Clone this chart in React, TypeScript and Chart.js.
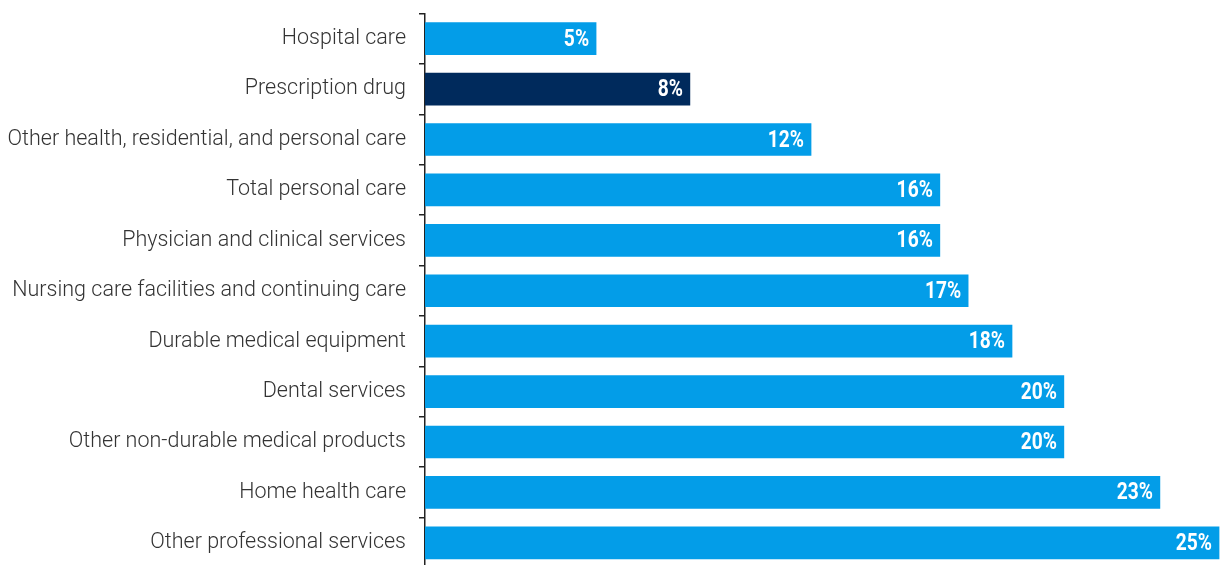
import React, { useEffect, useRef } from "react";
import { Chart, registerables } from "chart.js";

Chart.register(...registerables);

const categories = [
  "Hospital care",
  "Prescription drug",
  "Other health, residential, and personal care",
  "Total personal care",
  "Physician and clinical services",
  "Nursing care facilities and continuing care",
  "Durable medical equipment",
  "Dental services",
  "Other non-durable medical products",
  "Home health care",
  "Other professional services",
];

const values = [5.38, 8.33, 12.14, 16.19, 16.19, 17.08, 18.46, 20.09, 20.09, 23.11, 24.97];

const highlightIndex = 1;
const lightBlue = "#039DE8";
const navy = "#002A5C";

const valueLabelPlugin = {
  id: "valueLabels",
  afterDatasetsDraw(chart: any) {
    const ctx = chart.ctx;
    const meta = chart.getDatasetMeta(0);
    ctx.save();
    ctx.fillStyle = "#ffffff";
    ctx.textBaseline = "middle";
    ctx.textAlign = "right";
    ctx.font = "bold 24px Roboto";
    meta.data.forEach((bar: any, i: number) => {
      const text = Math.round(values[i]) + "%";
      const xRight = bar.x - 7;
      ctx.save();
      ctx.translate(xRight, bar.y + 1);
      ctx.scale(0.8, 1);
      ctx.fillText(text, 0, 0);
      ctx.restore();
    });
    ctx.restore();
  },
};

export default function App() {
  const ref = useRef<HTMLCanvasElement | null>(null);

  useEffect(() => {
    document.body.style.margin = "0";
    const canvas = ref.current;
    if (!canvas) return;
    const chart = new Chart(canvas, {
      type: "bar",
      data: {
        labels: categories,
        datasets: [
          {
            data: values,
            backgroundColor: values.map((_, i) => (i === highlightIndex ? navy : lightBlue)),
            borderWidth: 0,
            barThickness: 32,
          },
        ],
      },
      options: {
        indexAxis: "y",
        animation: false,
        responsive: false,
        maintainAspectRatio: false,
        layout: { padding: { top: 13.5, bottom: 1, left: 0, right: 0 } },
        plugins: {
          legend: { display: false },
          tooltip: { enabled: false },
        },
        scales: {
          x: {
            display: false,
            min: 0,
            max: 25,
          },
          y: {
            afterFit(scale: any) {
              scale.width = 425;
              scale.paddingTop = 0;
              scale.paddingBottom = 0;
            },
            border: { display: true, color: "#222222", width: 1.5 },
            grid: {
              display: true,
              drawOnChartArea: false,
              drawTicks: true,
              tickLength: 6,
              color: "#222222",
              lineWidth: 1.5,
              offset: true,
            },
            ticks: {
              padding: 13,
              color: "#333333",
              font: { family: "Roboto", size: 21.5, weight: "300" as any },
            },
          },
        },
      },
      plugins: [valueLabelPlugin],
    });
    return () => chart.destroy();
  }, []);

  return <canvas ref={ref} width={1220} height={569} style={{ display: "block" }} />;
}
